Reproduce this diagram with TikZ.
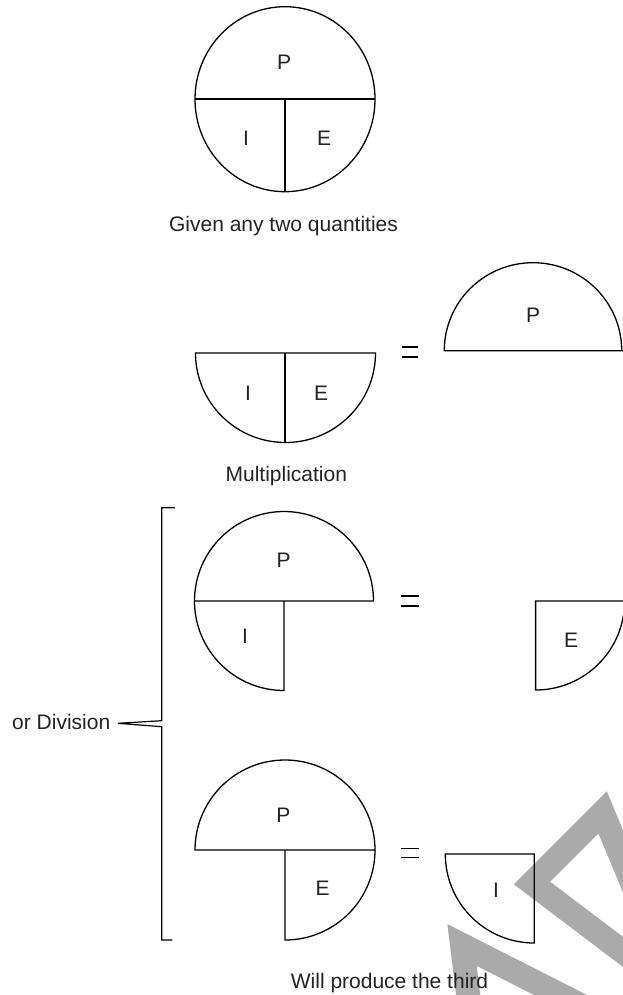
\documentclass[tikz,border=0pt]{standalone}
\usepackage{fontspec}
\setmainfont{Liberation Sans}
\definecolor{txt}{HTML}{222222}
\definecolor{wmgray}{HTML}{AAAAAA}
\begin{document}
\begin{tikzpicture}[x=1pt,y=-1pt,
  lbl/.style={font=\fontsize{21}{25}\selectfont, text=txt, inner sep=0pt},
  part/.style={draw=black, line width=1.3pt, line join=miter},
  eqbar/.style={draw=black, line width=1.1pt},
  wm/.style={draw=wmgray, line width=24pt, line join=miter, line cap=butt}]
\useasboundingbox (0,0) rectangle (623,995);
\begin{scope}
\clip (0,0) rectangle (623,995);
% watermark
\draw[wm] (681,1000) -- (602.6,812.4) -- (532,883) -- (680,995);
\draw[wm] (470,1010) -- (462,945) -- (600,1015);

% top circle
\draw[part] (285,99.2) ellipse [x radius=90, y radius=92.5];
\draw[part] (195,99) -- (375,99);
\draw[part] (285,99) -- (285,191.7);
\node[lbl] (tP) at (284,62) {P};
\node[lbl] (tI) at (246,138) {I};
\node[lbl] (tE) at (324,138) {E};
\node[lbl, anchor=base] (given) at (283.5,231.5) {Given any two quantities};

% multiplication row
\draw[part] (375.5,353) arc[start angle=0, end angle=180, x radius=90, y radius=89.5] -- cycle;
\draw[part] (285,353) -- (285,442.5);
\node[lbl] (mI) at (248,393) {I};
\node[lbl] (mE) at (321,393) {E};
\draw[eqbar] (402,347) -- (418,347);
\draw[eqbar] (402,357) -- (418,357);
\draw[part] (444.3,350.7) arc[start angle=180, end angle=360, x radius=88.7, y radius=88] -- (623,350.7) -- cycle;
\node[lbl] (mP) at (533,315) {P};
\node[lbl, anchor=base] (mult) at (286.3,481.7) {Multiplication};

% division row 1
\draw[part] (194.5,601) arc[start angle=180, end angle=360, radius=89.5] -- cycle;
\draw[part] (194.5,601) arc[start angle=180, end angle=90, radius=89.5] -- (284,601);
\node[lbl] (aP) at (283.7,560) {P};
\node[lbl] (aI) at (245,636) {I};
\draw[eqbar] (400.5,596) -- (419,596);
\draw[eqbar] (400.5,606) -- (419,606);
\draw[part] (623,601) -- (535.6,601) -- (535.6,690) arc[start angle=90, end angle=0, radius=89];
\node[lbl] (aE) at (571,640) {E};

% division row 2
\draw[part] (195,850) arc[start angle=180, end angle=360, radius=90] -- cycle;
\draw[part] (375,850) arc[start angle=0, end angle=90, radius=90] -- (285,850);
\node[lbl] (bP) at (283.3,815) {P};
\node[lbl] (bE) at (322.7,888) {E};
\draw[eqbar] (401,848.3) -- (419.3,848.3);
\draw[eqbar] (401,857.3) -- (419.3,857.3);
\draw[part] (534.3,854) -- (445.3,854) arc[start angle=180, end angle=90, radius=89] -- cycle;
\node[lbl] (bI) at (496,890) {I};

% bracket
\node[lbl, anchor=base west] (div) at (12,729) {or Division};
\coordinate (tip) at (118,723.3);
\draw[black, line width=1.2pt, line join=miter]
  (174.8,507.7) -- (161.7,507.7) -- (161.7,720.7) -- (tip) -- (161.7,726.7) -- (161.7,940) -- (172.3,940);
\node[lbl, anchor=base] (third) at (389.5,988) {Will produce the third};
\end{scope}
\end{tikzpicture}
\end{document}
